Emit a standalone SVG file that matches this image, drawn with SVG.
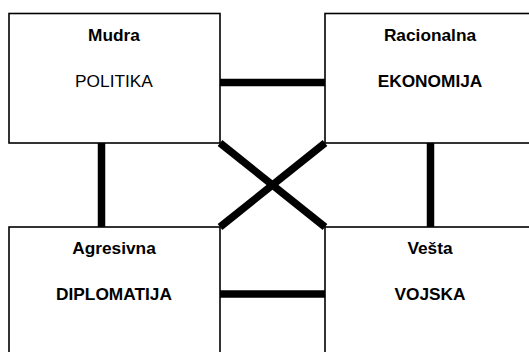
<svg xmlns="http://www.w3.org/2000/svg" width="529" height="352" viewBox="0 0 529 352">
<style>
.box{fill:#fff;stroke:#000;stroke-width:1.6}
.con{stroke:#000;stroke-width:7.5;fill:none}
text{font-family:"Liberation Sans",Arial,sans-serif;font-size:17.3px;text-anchor:middle;fill:#000}
.b{font-weight:bold}
</style>
<rect width="529" height="352" fill="#fff"/>
<g id="connectors">
<line class="con" x1="220" y1="82.5" x2="325" y2="82.5"/>
<line class="con" x1="220" y1="294" x2="325" y2="294"/>
<line class="con" x1="101.5" y1="143" x2="101.5" y2="227"/>
<line class="con" x1="430.5" y1="143" x2="430.5" y2="227"/>
<line class="con" x1="220" y1="143" x2="325" y2="227"/>
<line class="con" x1="325" y1="143" x2="220" y2="227"/>
</g>
<g id="mudra-politika">
<rect class="box" x="9" y="13.5" width="211" height="129.5"/>
<text class="b" x="114" y="41">Mudra</text>
<text x="114" y="87">POLITIKA</text>
</g>
<g id="racionalna-ekonomija">
<rect class="box" x="325" y="13.5" width="215" height="129.5"/>
<text class="b" x="430" y="41">Racionalna</text>
<text class="b" x="430" y="87">EKONOMIJA</text>
</g>
<g id="agresivna-diplomatija">
<rect class="box" x="9" y="227" width="211" height="140"/>
<text class="b" x="114" y="254">Agresivna</text>
<text class="b" x="114" y="300">DIPLOMATIJA</text>
</g>
<g id="vesta-vojska">
<rect class="box" x="325" y="227" width="215" height="140"/>
<text class="b" x="430" y="254">Vešta</text>
<text class="b" x="430" y="300">VOJSKA</text>
</g>
</svg>
